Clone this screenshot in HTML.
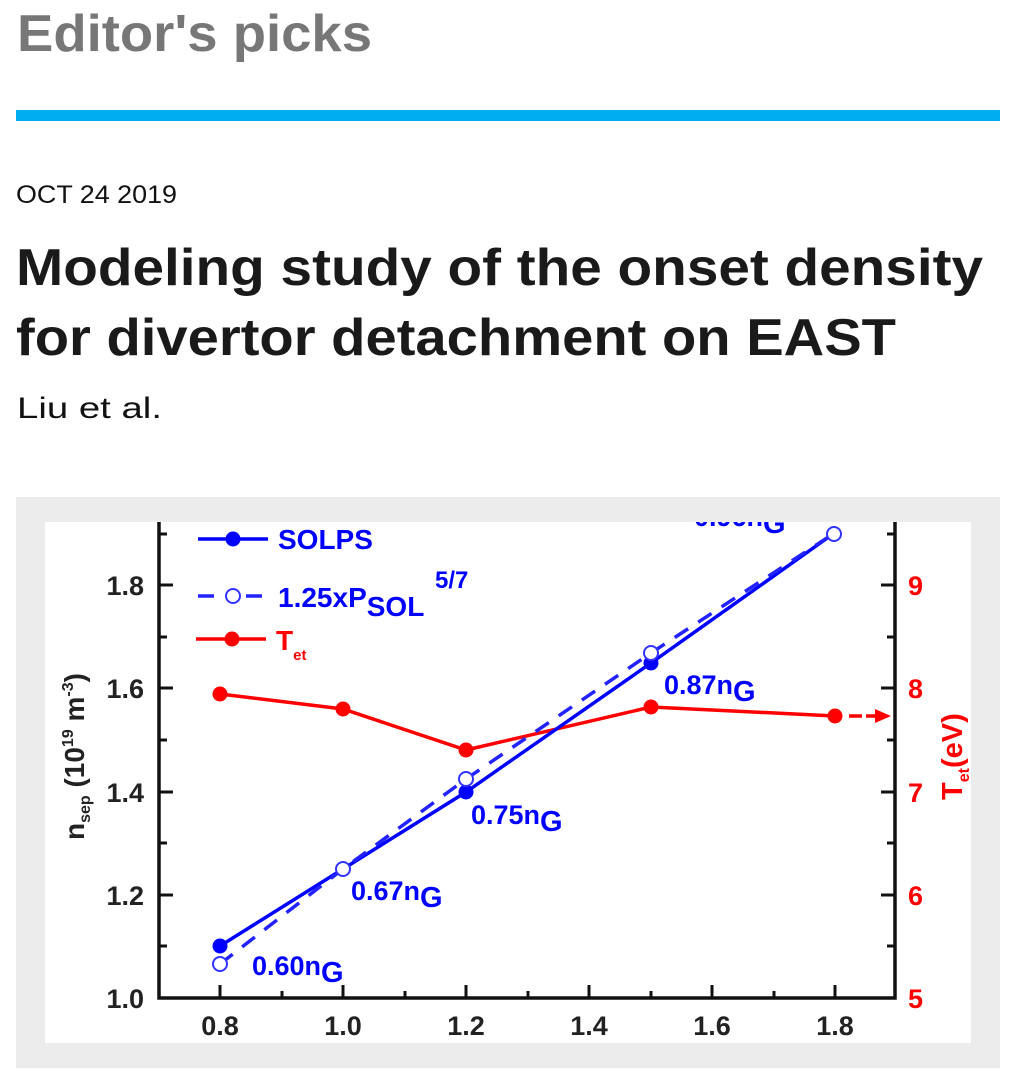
<!DOCTYPE html>
<html><head><meta charset="utf-8"><style>
html,body{margin:0;padding:0;background:#fff;width:1016px;height:1076px;overflow:hidden}
svg{display:block}
</style></head><body>
<svg width="1016" height="1076" viewBox="0 0 1016 1076" xmlns="http://www.w3.org/2000/svg" font-family="Liberation Sans, Arial, sans-serif">
<text x="17" y="51" font-size="52" font-weight="bold" fill="#777" textLength="355" lengthAdjust="spacingAndGlyphs">Editor's picks</text>
<rect x="16" y="110" width="984" height="11" fill="#00aeef"/>
<text x="16" y="203" font-size="25" fill="#111" textLength="161" lengthAdjust="spacingAndGlyphs">OCT 24 2019</text>
<text x="16" y="285" font-size="52" font-weight="bold" fill="#1a1a1a" textLength="967" lengthAdjust="spacingAndGlyphs">Modeling study of the onset density</text>
<text x="16" y="355" font-size="52" font-weight="bold" fill="#1a1a1a" textLength="880" lengthAdjust="spacingAndGlyphs">for divertor detachment on EAST</text>
<text x="17" y="418" font-size="30" fill="#111" textLength="145" lengthAdjust="spacingAndGlyphs">Liu et al.</text>

<rect x="16" y="497" width="984" height="571" fill="#ececec"/>
<rect x="45" y="522" width="926" height="521" fill="#fff"/>
<defs><clipPath id="c"><rect x="45" y="522" width="926" height="521"/></clipPath></defs>
<g clip-path="url(#c)">
<g stroke="#111" stroke-width="3.5" fill="none">
<polyline points="159,522 159,998 895,998 895,522"/>
</g>
<g stroke="#111" stroke-width="3">
<line x1="159" y1="998" x2="173" y2="998"/><line x1="159" y1="946" x2="167" y2="946"/>
<line x1="159" y1="895" x2="173" y2="895"/><line x1="159" y1="843" x2="167" y2="843"/>
<line x1="159" y1="792" x2="173" y2="792"/><line x1="159" y1="740" x2="167" y2="740"/>
<line x1="159" y1="688" x2="173" y2="688"/><line x1="159" y1="637" x2="167" y2="637"/>
<line x1="159" y1="585" x2="173" y2="585"/><line x1="159" y1="534" x2="167" y2="534"/>
<line x1="895" y1="998" x2="881" y2="998"/><line x1="895" y1="946" x2="887" y2="946"/>
<line x1="895" y1="895" x2="881" y2="895"/><line x1="895" y1="843" x2="887" y2="843"/>
<line x1="895" y1="792" x2="881" y2="792"/><line x1="895" y1="740" x2="887" y2="740"/>
<line x1="895" y1="688" x2="881" y2="688"/><line x1="895" y1="637" x2="887" y2="637"/>
<line x1="895" y1="585" x2="881" y2="585"/><line x1="895" y1="534" x2="887" y2="534"/>
<line x1="220" y1="998" x2="220" y2="985"/><line x1="282" y1="998" x2="282" y2="991"/>
<line x1="343" y1="998" x2="343" y2="985"/><line x1="405" y1="998" x2="405" y2="991"/>
<line x1="466" y1="998" x2="466" y2="985"/><line x1="528" y1="998" x2="528" y2="991"/>
<line x1="589" y1="998" x2="589" y2="985"/><line x1="651" y1="998" x2="651" y2="991"/>
<line x1="712" y1="998" x2="712" y2="985"/><line x1="774" y1="998" x2="774" y2="991"/>
<line x1="835" y1="998" x2="835" y2="985"/>
</g>
<g font-size="27" font-weight="bold" fill="#222" text-anchor="end">
<text x="144" y="1008">1.0</text><text x="144" y="905">1.2</text><text x="144" y="802">1.4</text>
<text x="144" y="698">1.6</text><text x="144" y="595">1.8</text>
</g>
<g font-size="27" font-weight="bold" fill="#222" text-anchor="middle">
<text x="220" y="1035">0.8</text><text x="343" y="1035">1.0</text><text x="466" y="1035">1.2</text>
<text x="589" y="1035">1.4</text><text x="712" y="1035">1.6</text><text x="835" y="1035">1.8</text>
</g>
<g font-size="27" font-weight="bold" fill="#f00" text-anchor="start">
<text x="908" y="1008">5</text><text x="908" y="905">6</text><text x="908" y="802">7</text>
<text x="908" y="698">8</text><text x="908" y="595">9</text>
</g>
<text transform="translate(84,840) rotate(-90)" font-size="28" font-weight="bold" fill="#222">n<tspan font-size="16" dy="6">sep</tspan><tspan dy="-6"> (10</tspan><tspan font-size="16" dy="-11">19</tspan><tspan dy="11"> m</tspan><tspan font-size="16" dy="-11">-3</tspan><tspan dy="11">)</tspan></text>
<text transform="translate(962,800) rotate(-90)" font-size="29" font-weight="bold" fill="#f00">T<tspan font-size="16" dy="7">et</tspan><tspan dy="-7">(eV)</tspan></text>
<polyline points="220,694 343,709 466,750 651,707 835,716" fill="none" stroke="#f00" stroke-width="3.5"/>
<g fill="#f00"><circle cx="220" cy="694" r="7.5"/><circle cx="343" cy="709" r="7.5"/><circle cx="466" cy="750" r="7.5"/><circle cx="651" cy="707" r="7.5"/><circle cx="835" cy="716" r="7.5"/></g>
<line x1="849" y1="716" x2="862" y2="716" stroke="#f00" stroke-width="3.5"/>
<line x1="866" y1="716" x2="878" y2="716" stroke="#f00" stroke-width="3.5"/>
<polygon points="875,709 891,716 875,723" fill="#f00"/>
<polyline points="220,946 343,869 466,792 651,663 833,534" fill="none" stroke="#00f" stroke-width="3.5"/>
<polyline points="220,964 343,869 466,779 651,653 833,534" fill="none" stroke="#22f" stroke-width="3.5" stroke-dasharray="16,12"/>
<g fill="#00f"><circle cx="220" cy="946" r="7.5"/><circle cx="466" cy="792" r="7.5"/><circle cx="651" cy="663" r="7.5"/></g>
<g fill="#fff" stroke="#33f" stroke-width="2"><circle cx="220" cy="964" r="7"/><circle cx="343" cy="869" r="7"/><circle cx="466" cy="779" r="7"/><circle cx="651" cy="653" r="7"/><circle cx="834" cy="534" r="7"/></g>
<g font-size="27" font-weight="bold" fill="#00f">
<text x="252" y="975">0.60n<tspan font-size="29" dy="7">G</tspan></text>
<text x="351" y="900">0.67n<tspan font-size="29" dy="7">G</tspan></text>
<text x="471" y="824">0.75n<tspan font-size="29" dy="7">G</tspan></text>
<text x="664" y="694">0.87n<tspan font-size="29" dy="7">G</tspan></text>
<text x="694" y="526">0.96n<tspan font-size="29" dy="7">G</tspan></text>
</g>
<line x1="198" y1="539" x2="268" y2="539" stroke="#00f" stroke-width="3.5"/>
<circle cx="233" cy="539" r="7.5" fill="#00f"/>
<text x="278" y="549" font-size="28" font-weight="bold" fill="#00f">SOLPS</text>
<line x1="198" y1="596" x2="214" y2="596" stroke="#22f" stroke-width="3.5"/>
<line x1="246" y1="596" x2="262" y2="596" stroke="#22f" stroke-width="3.5"/>
<circle cx="233" cy="596" r="7" fill="#fff" stroke="#33f" stroke-width="2"/>
<text x="278" y="607" font-size="28" font-weight="bold" fill="#00f">1.25xP<tspan dy="9">SOL</tspan></text>
<text x="435" y="588" font-size="24" font-weight="bold" fill="#00f">5/7</text>
<line x1="196" y1="639" x2="266" y2="639" stroke="#f00" stroke-width="3.5"/>
<circle cx="232" cy="639" r="7.5" fill="#f00"/>
<text x="276" y="650" font-size="28" font-weight="bold" fill="#f00">T<tspan font-size="15" dy="10">et</tspan></text>
</g>
</svg>
</body></html>
